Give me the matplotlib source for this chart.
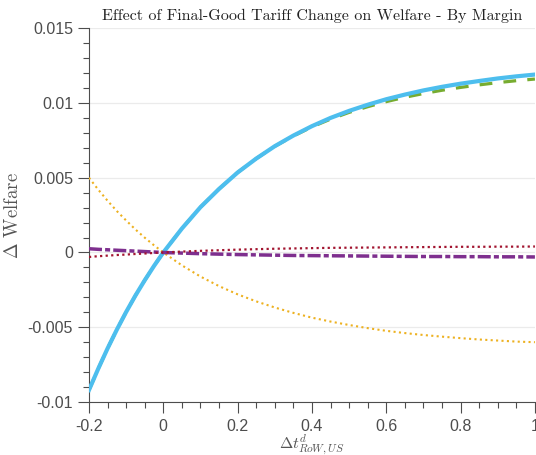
import numpy as np
import matplotlib
matplotlib.use("Agg")
import matplotlib.pyplot as plt
from matplotlib.ticker import MultipleLocator, FuncFormatter

# valores (paso mas fino al principio, donde la curva es empinada)
x = [-0.2, -0.175, -0.15, -0.125, -0.1, -0.075, -0.05, -0.025, 0.0, 0.05, 0.1, 0.15, 0.2,
     0.25, 0.3, 0.35, 0.4, 0.45, 0.5, 0.55, 0.6, 0.65, 0.7, 0.75, 0.8, 0.85, 0.9, 0.95, 1.0]

total = [-0.0092, -0.00777, -0.00642, -0.00516, -0.00398, -0.00288, -0.00186, -0.0009, 0.0,
         0.0016, 0.00303, 0.00425, 0.00535, 0.00628, 0.00711, 0.00782, 0.00845, 0.009,
         0.00947, 0.00988, 0.01025, 0.01056, 0.01084, 0.01108, 0.01129, 0.01147, 0.01164,
         0.01178, 0.0119]
intensive = [-0.0092, -0.00777, -0.00642, -0.00516, -0.00398, -0.00288, -0.00186, -0.0009, 0.0,
             0.0016, 0.00303, 0.00425, 0.00535, 0.00628, 0.0071, 0.00779, 0.0084, 0.00892,
             0.00937, 0.00975, 0.01009, 0.01038, 0.01063, 0.01085, 0.01104, 0.01121, 0.01136,
             0.01149, 0.0116]
extensive = [0.005, 0.0042, 0.00346, 0.00277, 0.00214, 0.00154, 0.00099, 0.00048, 0.0,
             -0.00086, -0.00161, -0.00225, -0.0028, -0.00327, -0.00368, -0.00404, -0.00436,
             -0.00462, -0.00485, -0.00506, -0.00524, -0.00539, -0.00552, -0.00563, -0.00573,
             -0.00582, -0.00589, -0.00596, -0.006]
entry = [0.00025, 0.00021, 0.00018, 0.00015, 0.00012, 0.00009, 0.00006, 0.00003, 0.0,
         -0.00004, -0.00008, -0.00011, -0.00014, -0.00016, -0.00018, -0.0002, -0.00021,
         -0.00022, -0.00023, -0.00024, -0.00025, -0.00026, -0.00027, -0.00027, -0.00028,
         -0.00028, -0.00029, -0.00029, -0.0003]
exitm = [-0.0003, -0.00025, -0.00021, -0.00017, -0.00014, -0.0001, -0.00007, -0.00003, 0.0,
         0.00006, 0.00011, 0.00015, 0.00019, 0.00022, 0.00025, 0.00027, 0.00029, 0.00031,
         0.00032, 0.00033, 0.00034, 0.00035, 0.00036, 0.00037, 0.00038, 0.00038, 0.00039,
         0.00039, 0.0004]

plt.rcParams['mathtext.fontset'] = 'cm'
plt.rcParams['font.family'] = ['Liberation Sans', 'DejaVu Sans']
plt.rcParams['axes.unicode_minus'] = False

fig = plt.figure(figsize=(5.36, 4.55), dpi=100)
ax = fig.add_axes([0.166, 0.1165, 0.832, 0.8215])

ax.plot(x, intensive, color='#77AC30', lw=2.3, dashes=(4, 3.5), zorder=3)
ax.plot(x, total, color='#4DBEEE', lw=3.0, zorder=4)
ax.plot(x, extensive, color='#EDB120', lw=1.5, dashes=(1, 1.6), zorder=5)
ax.plot(x, entry, color='#7E2F8E', lw=2.5, dashes=(3.75, 0.9, 1.45, 0.9), zorder=5)
ax.plot(x, exitm, color='#A2142F', lw=1.6, dashes=(1, 1.5), zorder=6)

ax.set_xlim(-0.2, 1)
ax.set_ylim(-0.01, 0.015)
ax.xaxis.set_major_locator(MultipleLocator(0.2))
ax.xaxis.set_minor_locator(MultipleLocator(0.05))
ax.yaxis.set_major_locator(MultipleLocator(0.005))
ax.yaxis.set_minor_locator(MultipleLocator(0.001))
fmt = FuncFormatter(lambda v, p: '%g' % round(v, 6))
ax.xaxis.set_major_formatter(fmt)
ax.yaxis.set_major_formatter(fmt)

ax.yaxis.grid(True, which='major', color='#ebebeb', lw=0.9)
ax.set_axisbelow(True)
for s in ['top', 'right']:
    ax.spines[s].set_visible(False)
for s in ['left', 'bottom']:
    ax.spines[s].set_color('#4d4d4d')
    ax.spines[s].set_linewidth(0.8)
ax.tick_params(which='major', length=8, width=0.8, color='#4d4d4d',
               labelcolor='#4d4d4d', labelsize=11.5)
ax.tick_params(which='minor', length=4.5, width=0.8, color='#4d4d4d')
ax.tick_params(axis='x', which='major', pad=4)

ax.set_title('Effect of Final-Good Tariff Change on Welfare - By Margin',
             family='cmr10', fontsize=11.5, color='#222222', pad=6)
ax.set_ylabel(r'$\Delta$ Welfare', family='cmr10', fontsize=13.5, color='#555555', labelpad=4)
ax.set_xlabel(r'$\Delta t^d_{RoW,US}$', fontsize=11.5, color='#555555')
ax.xaxis.set_label_coords(0.5, -0.083)

fig.savefig('out.png', dpi=100)
